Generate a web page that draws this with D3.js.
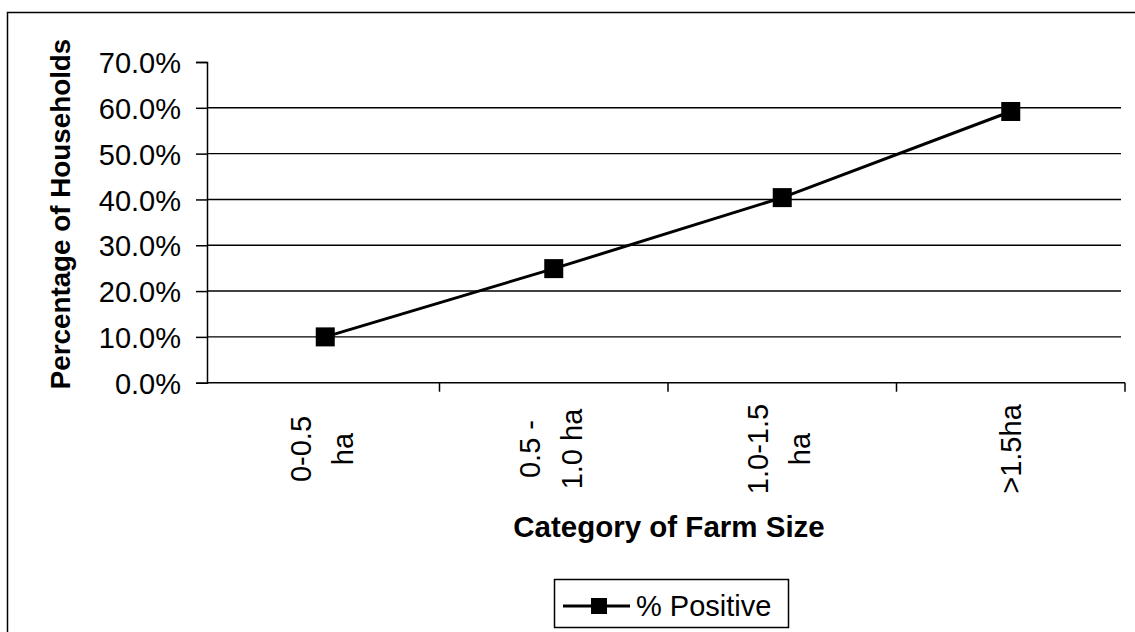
<!DOCTYPE html>
<html>
<head>
<meta charset="utf-8">
<script src="https://cdn.jsdelivr.net/npm/d3@7/dist/d3.min.js"></script>
<style>
  html, body { margin: 0; padding: 0; background: #fff; }
  svg { display: block; font-family: "Liberation Sans", Arial, sans-serif; }
</style>
</head>
<body>
<svg id="chart" width="1135" height="632"></svg>
<script>
// Share of households testing positive, by farm-size category
const categories = [["0-0.5", "ha"], ["0.5 -", "1.0 ha"], ["1.0-1.5", "ha"], [">1.5ha"]];
const categoryKeys = ["0-0.5 ha", "0.5 - 1.0 ha", "1.0-1.5 ha", ">1.5ha"];
const positive = [0.100, 0.249, 0.404, 0.592];
const yTicks = [0, 0.1, 0.2, 0.3, 0.4, 0.5, 0.6, 0.7];
const seriesName = "% Positive";
const xTitle = "Category of Farm Size";
const yTitle = "Percentage of Households";

const svg = d3.select("#chart");
const fontSize = 29;

// Outer chart frame
svg.append("rect")
  .attr("x", 7.5).attr("y", 12.5)
  .attr("width", 1140).attr("height", 640)
  .attr("fill", "none").attr("stroke", "#000").attr("stroke-width", 1.5);

const axisX = 207;          // vertical axis position
const x = d3.scaleBand().domain(categoryKeys).range([211, 1125]).padding(0);
const y = d3.scaleLinear().domain([0, 0.7]).range([382.7, 62]);
const cx = k => x(k) + x.bandwidth() / 2;

// Horizontal gridlines
svg.append("g").selectAll("line")
  .data(yTicks.filter(t => t > 0 && t < 0.7))
  .join("line")
  .attr("x1", axisX).attr("x2", 1121)
  .attr("y1", d => y(d)).attr("y2", d => y(d))
  .attr("stroke", "#000").attr("stroke-width", 1.4);

// Value axis
const yAxis = d3.axisLeft(y).tickValues(yTicks).tickSize(11).tickPadding(15)
  .tickFormat(d3.format(".1%"));
const gy = svg.append("g").attr("transform", `translate(${axisX},0)`).call(yAxis);
gy.select(".domain").attr("stroke", "#000").attr("stroke-width", 1.5);
gy.selectAll(".tick line").attr("stroke", "#000").attr("stroke-width", 1.5);
gy.selectAll(".tick text")
  .attr("font-size", fontSize).attr("fill", "#000")
  .attr("font-family", "Liberation Sans, Arial, sans-serif")
  .attr("dy", "0.37em");

// Category axis line with boundary ticks
const base = y(0);
svg.append("line")
  .attr("x1", axisX).attr("x2", x.range()[1])
  .attr("y1", base).attr("y2", base)
  .attr("stroke", "#000").attr("stroke-width", 1.5);
svg.append("g").selectAll("line")
  .data(categoryKeys.slice(1).map(k => x(k)).concat([x.range()[1]]))
  .join("line")
  .attr("x1", d => d).attr("x2", d => d)
  .attr("y1", base).attr("y2", base + 9)
  .attr("stroke", "#000").attr("stroke-width", 1.5);

// Rotated category labels
const lineGap = 42;
categories.forEach((lines, i) => {
  const t = svg.append("text")
    .attr("transform", `translate(${cx(categoryKeys[i])},449) rotate(-90)`)
    .attr("text-anchor", "middle")
    .attr("font-size", fontSize).attr("fill", "#000");
  const n = lines.length;
  lines.forEach((s, j) => {
    t.append("tspan")
      .attr("x", 0)
      .attr("y", (n > 1 ? 7 : 10) + (j - (n - 1) / 2) * lineGap)
      .text(s);
  });
});

// Axis titles
svg.append("text")
  .attr("x", 669).attr("y", 537)
  .attr("text-anchor", "middle")
  .attr("font-size", 29.5).attr("font-weight", "bold")
  .text(xTitle);
svg.append("text")
  .attr("transform", "translate(70,214) rotate(-90)")
  .attr("text-anchor", "middle")
  .attr("font-size", 27.8).attr("font-weight", "bold")
  .text(yTitle);

// Series line and square markers
const data = categoryKeys.map((k, i) => ({ k, v: positive[i] }));
svg.append("path")
  .datum(data)
  .attr("fill", "none").attr("stroke", "#000").attr("stroke-width", 3)
  .attr("d", d3.line().x(d => cx(d.k)).y(d => y(d.v)));
const m = 19;
svg.append("g").selectAll("rect")
  .data(data)
  .join("rect")
  .attr("x", d => cx(d.k) - m / 2).attr("y", d => y(d.v) - m / 2)
  .attr("width", m).attr("height", m)
  .attr("fill", "#000");

// Legend
const lg = svg.append("g");
lg.append("rect")
  .attr("x", 554.5).attr("y", 579.5).attr("width", 234).attr("height", 48)
  .attr("fill", "#fff").attr("stroke", "#000").attr("stroke-width", 1.5);
lg.append("line")
  .attr("x1", 563).attr("x2", 630).attr("y1", 606).attr("y2", 606)
  .attr("stroke", "#000").attr("stroke-width", 3);
lg.append("rect")
  .attr("x", 599 - 8).attr("y", 606 - 8).attr("width", 16).attr("height", 16)
  .attr("fill", "#000");
lg.append("text")
  .attr("x", 636).attr("y", 616)
  .attr("font-size", fontSize).attr("fill", "#000")
  .text(seriesName);
</script>
</body>
</html>
